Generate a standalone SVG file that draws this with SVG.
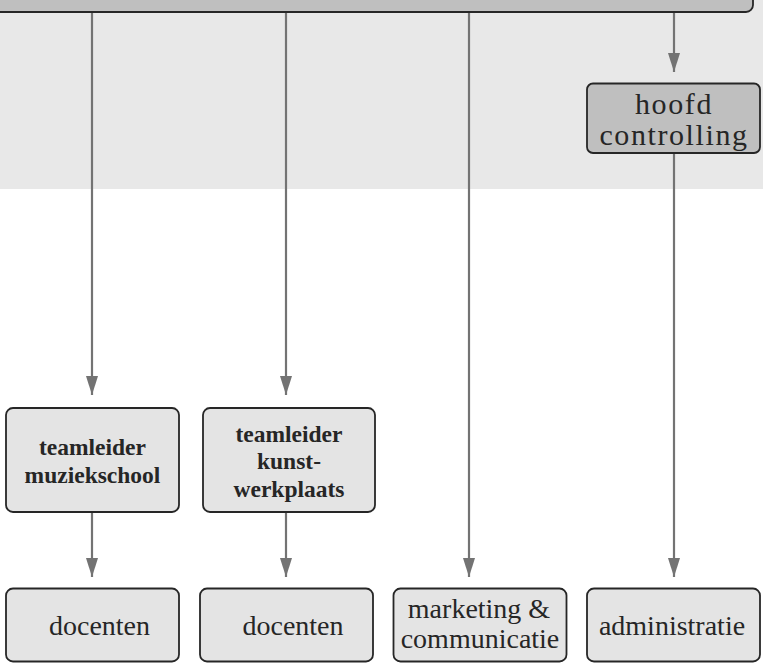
<svg xmlns="http://www.w3.org/2000/svg" width="763" height="668" viewBox="0 0 763 668">
<style>
.box{stroke:#262626;stroke-width:1.8}
.light{fill:#e4e4e4}
.dark{fill:#bfbfbf}
.t{font-family:"Liberation Serif","Times New Roman",serif;fill:#262626;text-anchor:middle}
.n{font-size:28px}
.b{font-size:23.5px;font-weight:bold}
.big{font-size:30px;letter-spacing:1.6px}
.con{stroke:#737373;stroke-width:2.2;fill:none}
</style>
<defs>
<marker id="ah" markerUnits="userSpaceOnUse" markerWidth="20" markerHeight="12" refX="19" refY="6" orient="auto">
<path d="M0,0 L19,6 L0,12 Z" fill="#737373"/>
</marker>
</defs>
<rect x="0" y="0" width="763" height="189" fill="#e8e8e8"/>
<g id="top">
<rect class="box dark" x="-20" y="-40" width="773" height="52" rx="7"/>
</g>
<g id="connectors">
<path class="con" d="M92,13 V395" marker-end="url(#ah)"/>
<path class="con" d="M286,13 V395" marker-end="url(#ah)"/>
<path class="con" d="M469,13 V577" marker-end="url(#ah)"/>
<path class="con" d="M674,13 V72" marker-end="url(#ah)"/>
<path class="con" d="M674,153 V577" marker-end="url(#ah)"/>
<path class="con" d="M92,512 V577" marker-end="url(#ah)"/>
<path class="con" d="M286,512 V577" marker-end="url(#ah)"/>
</g>
<g id="hoofd-controlling">
<rect class="box dark" x="587" y="83.5" width="173" height="69.5" rx="6"/>
<text class="t big" x="674" y="114">hoofd</text>
<text class="t big" x="674" y="145">controlling</text>
</g>
<g id="teamleider-muziekschool">
<rect class="box light" x="6" y="408" width="173" height="104" rx="7"/>
<text class="t b" x="92.5" y="455">teamleider</text>
<text class="t b" x="92.5" y="483">muziekschool</text>
</g>
<g id="teamleider-kunstwerkplaats">
<rect class="box light" x="203" y="408" width="172" height="104" rx="7"/>
<text class="t b" x="289" y="442">teamleider</text>
<text class="t b" x="289" y="469">kunst-</text>
<text class="t b" x="289" y="497">werkplaats</text>
</g>
<g id="docenten-1">
<rect class="box light" x="6" y="588.5" width="173" height="73" rx="7"/>
<text class="t n" x="99.5" y="635">docenten</text>
</g>
<g id="docenten-2">
<rect class="box light" x="200" y="588.5" width="173" height="73" rx="7"/>
<text class="t n" x="293" y="635">docenten</text>
</g>
<g id="marketing">
<rect class="box light" x="393.5" y="588.5" width="173" height="73" rx="7"/>
<text class="t n" x="479" y="618">marketing &amp;</text>
<text class="t n" x="480" y="648">communicatie</text>
</g>
<g id="administratie">
<rect class="box light" x="587" y="588.5" width="173" height="73" rx="7"/>
<text class="t n" x="672" y="635">administratie</text>
</g>
</svg>
